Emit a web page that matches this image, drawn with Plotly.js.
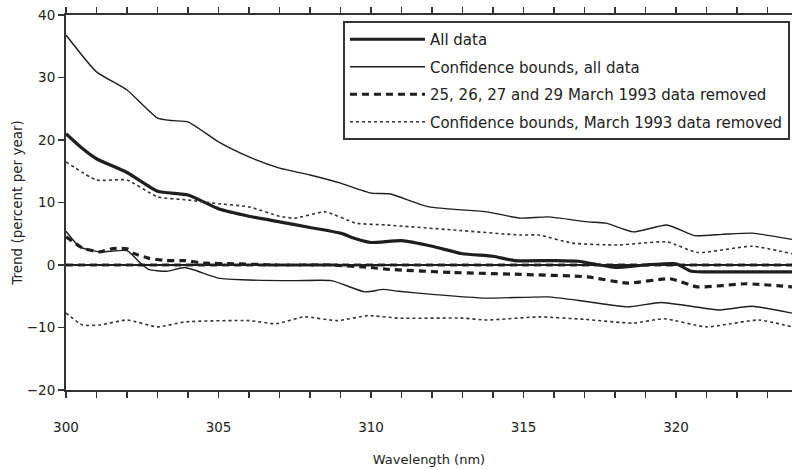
<!DOCTYPE html>
<html>
<head>
<meta charset="utf-8">
<script src="https://cdn.plot.ly/plotly-3.0.1.min.js"></script>
<style>html,body{margin:0;padding:0;background:#fff;}#chart{width:792px;height:470px;}</style>
</head>
<body>
<div id="chart"></div>
<script>
// Wavelength (nm) and trend values (percent per year)
var allX   = [300, 300.5, 301, 302, 303, 304, 305, 306, 307, 308, 309, 309.5, 310, 311, 312, 313, 314, 314.7, 316, 316.8, 317.5, 318, 319, 320, 320.5, 321.5, 322.5, 323.8];
var allY   = [21.0, 18.8, 17.0, 14.8, 11.8, 11.2, 9.0, 7.8, 6.9, 6.0, 5.1, 4.2, 3.6, 3.9, 3.0, 1.8, 1.4, 0.7, 0.7, 0.6, 0.0, -0.4, 0.0, 0.2, -1.0, -1.1, -1.1, -1.1];

var upAllX = [300, 301, 302, 303, 303.5, 304, 305, 306, 307, 308, 309, 310, 310.6, 311.9, 313.8, 314.9, 315.8, 317.1, 317.7, 318.6, 319.7, 320.6, 321.5, 322.5, 323.8];
var upAllY = [36.8, 30.9, 28.0, 23.5, 23.1, 22.9, 19.7, 17.3, 15.5, 14.4, 13.1, 11.5, 11.4, 9.3, 8.5, 7.5, 7.7, 6.9, 6.7, 5.3, 6.4, 4.7, 4.9, 5.1, 4.1];

var loAllX = [300, 300.45, 301.1, 302, 302.4, 302.7, 303.3, 303.9, 305, 306, 307.5, 308.7, 309.8, 310.4, 310.9, 312, 313.8, 315.8, 317, 318.4, 319.5, 320.5, 321.4, 322.5, 323.8];
var loAllY = [5.4, 2.9, 2.1, 2.3, 0.5, -0.7, -1.0, -0.4, -2.1, -2.4, -2.5, -2.5, -4.3, -3.9, -4.2, -4.7, -5.3, -5.1, -5.8, -6.7, -6.0, -6.6, -7.2, -6.6, -7.7];

var remX   = [300, 300.55, 301.1, 301.5, 302, 302.2, 302.7, 303.3, 303.9, 304.5, 305.5, 307, 308.7, 310, 310.6, 312.7, 314.9, 317.1, 318.4, 319.8, 320.7, 322.3, 323.8];
var remY   = [4.5, 2.7, 2.1, 2.6, 2.6, 1.9, 1.1, 0.7, 0.7, 0.3, 0.2, 0.0, 0.0, -0.4, -0.7, -1.2, -1.5, -1.9, -2.9, -2.2, -3.5, -3.0, -3.5];

var upRemX = [300, 301, 302, 303, 304, 305, 306, 307, 307.5, 308.5, 309.5, 310.5, 312.7, 314.9, 315.5, 316.6, 318.1, 319.7, 320.7, 322.5, 323.8];
var upRemY = [16.5, 13.6, 13.6, 10.9, 10.4, 9.8, 9.3, 7.8, 7.5, 8.5, 6.7, 6.4, 5.6, 4.8, 4.8, 3.5, 3.2, 3.7, 2.0, 3.0, 1.8];

var loRemX = [300, 300.55, 301.1, 302, 303, 303.9, 306, 306.9, 307.8, 308.9, 309.9, 310.9, 313, 313.8, 315.5, 317, 318.6, 319.6, 321, 322.7, 323.8];
var loRemY = [-7.7, -9.6, -9.6, -8.8, -9.9, -9.1, -8.9, -9.4, -8.3, -8.9, -8.1, -8.5, -8.5, -8.8, -8.3, -8.7, -9.3, -8.6, -9.9, -8.8, -9.9];

var seriesNames = ["All data", "Confidence bounds, all data", "25, 26, 27 and 29 March 1993 data removed", "Confidence bounds, March 1993 data removed"];

var xTickVals = [];
var xTickText = [];
for (var v = 300; v <= 323; v++) { xTickVals.push(v); xTickText.push(v % 5 === 0 ? String(v) : ""); }
var yTickVals = [-20, -10, 0, 10, 20, 30, 40];

var ink = "#1e1e1e";
var sm = {shape: "spline", smoothing: 0.5};

var traces = [
  {x: allX, y: allY, name: seriesNames[0], legendgroup: "a", mode: "lines",
   line: Object.assign({color: ink, width: 3.2}, sm)},
  {x: upAllX, y: upAllY, name: seriesNames[1], legendgroup: "b", mode: "lines",
   line: Object.assign({color: ink, width: 1.4}, sm)},
  {x: loAllX, y: loAllY, name: seriesNames[1], legendgroup: "b", showlegend: false, mode: "lines",
   line: Object.assign({color: ink, width: 1.4}, sm)},
  {x: remX, y: remY, name: seriesNames[2], legendgroup: "c", mode: "lines",
   line: Object.assign({color: ink, width: 3.2, dash: "7px,5px"}, sm)},
  {x: upRemX, y: upRemY, name: seriesNames[3], legendgroup: "d", mode: "lines",
   line: Object.assign({color: "#333", width: 1.6, dash: "3px,3px"}, sm)},
  {x: loRemX, y: loRemY, name: seriesNames[3], legendgroup: "d", showlegend: false, mode: "lines",
   line: Object.assign({color: "#333", width: 1.6, dash: "3px,3px"}, sm)}
];

var layout = {
  width: 792, height: 470,
  margin: {l: 66, r: 0, t: 15, b: 80},
  paper_bgcolor: "#fff", plot_bgcolor: "#fff",
  font: {family: "DejaVu Sans, Verdana, sans-serif", color: "#222", size: 12},
  showlegend: true,
  legend: {
    x: 0.3815, y: 0.984, xanchor: "left", yanchor: "top",
    bgcolor: "#fff", bordercolor: "#333", borderwidth: 2,
    font: {size: 15, color: "#222"},
    itemwidth: 75, tracegroupgap: 5, traceorder: "grouped",
    itemclick: false
  },
  xaxis: {
    range: [300, 323.8], tickmode: "array", tickvals: xTickVals, ticktext: xTickText,
    ticks: "outside", ticklen: 6, tickwidth: 1.5, tickcolor: "#333",
    showline: true, linecolor: "#333", linewidth: 2, mirror: "ticks",
    showgrid: false, zeroline: false,
    tickfont: {size: 13.5, color: "#222"}, ticklabelstandoff: 18,
    title: {text: "Wavelength (nm)", font: {size: 13, color: "#222"}, standoff: 21}
  },
  yaxis: {
    range: [-20, 40], tickmode: "array", tickvals: yTickVals,
    ticks: "outside", ticklen: 6, tickwidth: 1.5, tickcolor: "#333",
    showline: true, linecolor: "#333", linewidth: 2,
    showgrid: false, zeroline: true, zerolinecolor: ink, zerolinewidth: 1.3,
    tickfont: {size: 13.5, color: "#222"},
    title: {text: "Trend (percent per year)", font: {size: 13.5, color: "#222"}, standoff: 1}
  },
  shapes: [
    {type: "line", xref: "paper", yref: "y", x0: 0, x1: 1, y0: 0, y1: 0, layer: "below",
     line: {color: "#333", width: 3, dash: "7px,5px"}}
  ]
};

Plotly.newPlot("chart", traces, layout, {displayModeBar: false, staticPlot: true});
</script>
</body>
</html>
